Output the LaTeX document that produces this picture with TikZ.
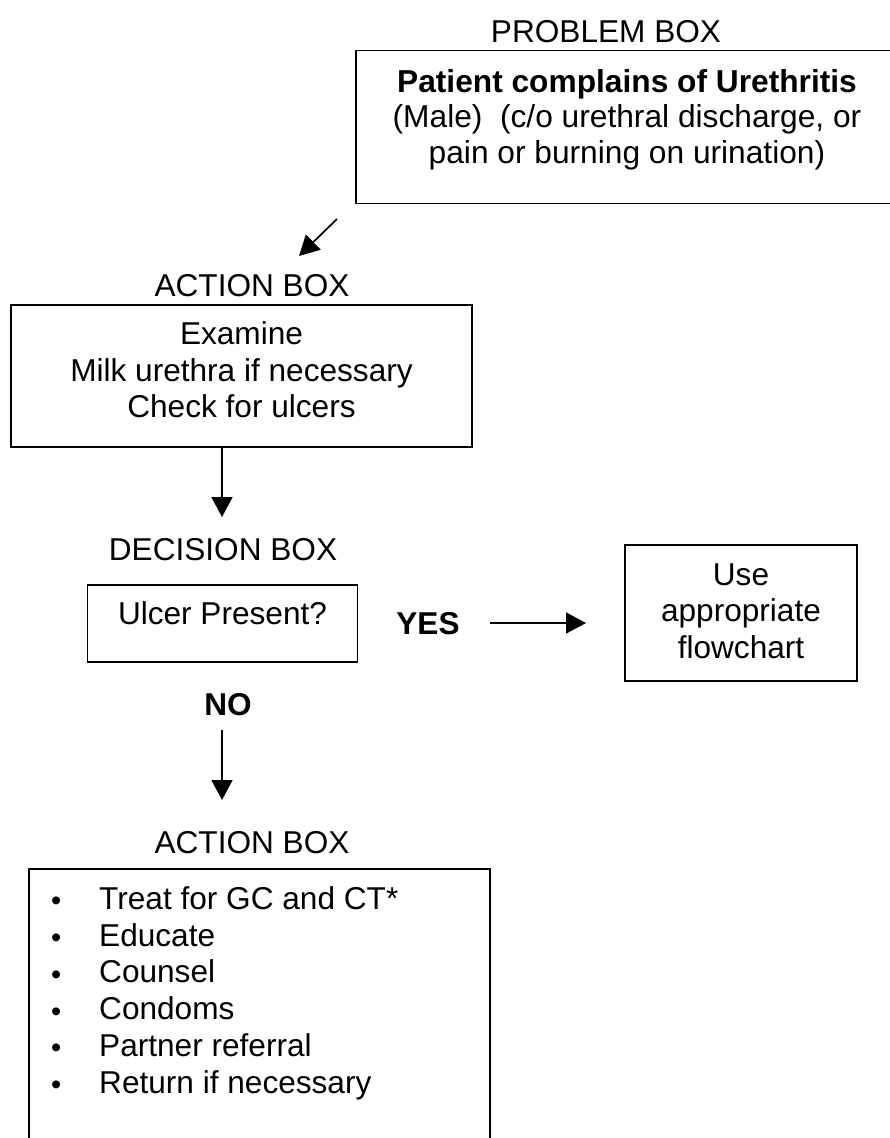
\documentclass[tikz,border=0pt]{standalone}
\usepackage{fontspec}
\setmainfont{Liberation Sans}
\usetikzlibrary{arrows.meta}
\newcommand{\bul}{\makebox[48pt][l]{\raisebox{-1.5pt}{\fontsize{29}{29}\selectfont •}}}
\begin{document}
\begin{tikzpicture}[x=1pt,y=-1pt,
  box/.style={draw, line width=1.8pt, inner sep=0pt},
  txt/.style={inner sep=0pt, align=center, font=\fontsize{31.6}{36.6}\selectfont},
  arr/.style={line width=1.7pt, -{Triangle[length=20pt,width=21pt]}}]
\clip (0,0) rectangle (890,1138);
\fill[white] (0,0) rectangle (890,1138);
% problem box
\node[txt, anchor=base] (tprob) at (606,42) {PROBLEM BOX};
\node[box, minimum width=542, minimum height=153] (prob) at (627,127) {};
\node[txt, anchor=north, font=\fontsize{31.7}{35.5}\selectfont] (probtext) at (627,62)
  {\rule{0pt}{30pt}\textbf{Patient complains of Urethritis}\\(Male)~~(c/o urethral discharge, or\\pain or burning on urination)};
% action box 1
\node[txt, anchor=base] (tact1) at (252,296) {ACTION BOX};
\node[box, minimum width=461, minimum height=142] (act1) at (241.5,376) {};
\node[txt, anchor=north] (act1text) at (241.5,314.5)
  {\rule{0pt}{30pt}Examine\\Milk urethra if necessary\\Check for ulcers};
% decision box
\node[txt, anchor=base] (tdec) at (223,560) {DECISION BOX};
\node[box, minimum width=270, minimum height=77] (dec) at (222.5,623.5) {};
\node[txt, anchor=base] (dectext) at (222.5,624) {Ulcer Present?};
% other flowchart box
\node[box, minimum width=232, minimum height=136] (use) at (741,613) {};
\node[txt, anchor=north] (usetext) at (741,555)
  {\rule{0pt}{30pt}Use\\appropriate\\flowchart};
% yes / no labels
\node[txt, anchor=base, font=\fontsize{31.6}{36.6}\selectfont\bfseries] (yes) at (428,634) {YES};
\node[txt, anchor=base, font=\fontsize{31.6}{36.6}\selectfont\bfseries] (no) at (228,715) {NO};
% action box 2
\node[txt, anchor=base] (tact2) at (252,853) {ACTION BOX};
\node[box, minimum width=461, minimum height=291] (act2) at (259.5,1014.5) {};
\node[txt, anchor=north west, align=left, font=\fontsize{31.6}{36.8}\selectfont] (list) at (51,879)
  {\rule{0pt}{30pt}\bul Treat for GC and CT*\\
   \bul Educate\\
   \bul Counsel\\
   \bul Condoms\\
   \bul Partner referral\\
   \bul Return if necessary};
% connectors
\coordinate (a1s) at (337,219);
\coordinate (a1e) at (299,256);
\draw[arr] (a1s) -- (a1e);
\coordinate (a2e) at (222,517);
\draw[arr] (act1.south -| a2e) -- (a2e);
\coordinate (a3s) at (490,623);
\coordinate (a3e) at (586,623);
\draw[arr] (a3s) -- (a3e);
\coordinate (a4s) at (222,730);
\coordinate (a4e) at (222,800);
\draw[arr] (a4s) -- (a4e);
\end{tikzpicture}
\end{document}
